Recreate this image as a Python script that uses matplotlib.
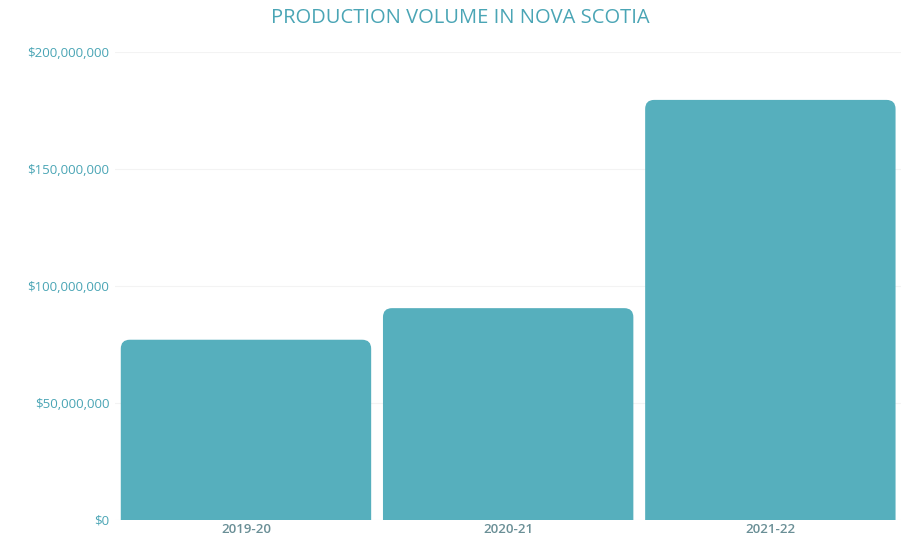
import numpy as np
import matplotlib.pyplot as plt
from matplotlib.patches import FancyBboxPatch
from matplotlib.ticker import FuncFormatter

years = ['2019-20', '2020-21', '2021-22']
volume = [77000000, 90500000, 179500000]

bar_color = '#56afbd'
text_color = '#4aa5b5'

plt.rcParams['font.family'] = ['Open Sans', 'DejaVu Sans']

fig = plt.figure(figsize=(9.01, 5.41), dpi=100)
ax = fig.add_axes([0.1275, 0.039, 0.873, 0.865])

x = np.arange(len(years))
width = 0.955
bars = ax.bar(x, volume, width, color='none')

ax.set_xlim(-0.5, 2.5)
ax.set_ylim(0, 200000000)

# rounded top corners: redraw each bar as a rounded box, extended below 0 so the bottom is clipped square
fig.canvas.draw()
px_x = (ax.get_xlim()[1] - ax.get_xlim()[0]) / ax.bbox.width
px_y = (ax.get_ylim()[1] - ax.get_ylim()[0]) / ax.bbox.height
r = 9 * px_x
for b in bars:
    bx, by = b.get_x(), b.get_y()
    bw, bh = b.get_width(), b.get_height()
    patch = FancyBboxPatch((bx, by - 20 * px_y), bw, bh + 20 * px_y,
                           boxstyle='round,pad=0,rounding_size=%f' % r,
                           mutation_aspect=px_y / px_x,
                           facecolor=bar_color, edgecolor='none', zorder=2)
    ax.add_patch(patch)

ax.set_yticks([0, 50000000, 100000000, 150000000, 200000000])
ax.yaxis.set_major_formatter(FuncFormatter(lambda v, p: '${:,.0f}'.format(v)))
ax.set_xticks(x)
ax.set_xticklabels(years, fontweight='semibold')
ax.tick_params(axis='both', length=0, colors=text_color)
ax.tick_params(axis='y', pad=4, labelsize=9.5)
ax.tick_params(axis='x', pad=2, labelsize=9.5)
for t in ax.get_xticklabels():
    t.set_color('#6a8f96')

ax.grid(axis='y', color='#f3f3f3', linewidth=0.8, zorder=0)
ax.set_axisbelow(True)
for s in ax.spines.values():
    s.set_visible(False)

fig.text(0.511, 0.966, 'PRODUCTION VOLUME IN NOVA SCOTIA', ha='center', va='center',
         color=text_color, fontsize=14.5)

fig.savefig('out.png', dpi=100)
